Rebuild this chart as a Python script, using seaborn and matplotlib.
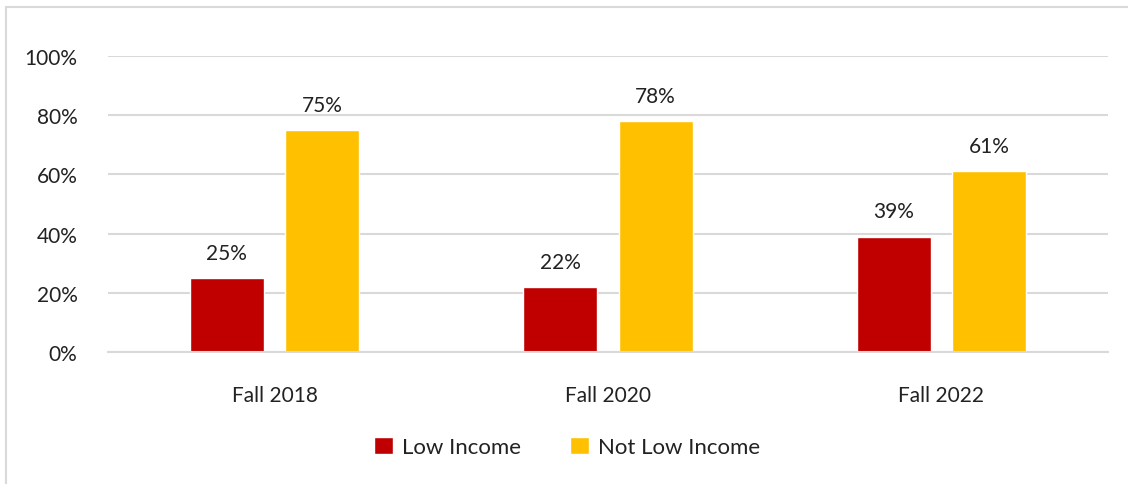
import seaborn as sns
from matplotlib import pyplot as plt
from matplotlib.patches import Rectangle
import pandas as pd

terms = ["Fall 2018", "Fall 2020", "Fall 2022"]
low_income = [25, 22, 39]
not_low_income = [75, 78, 61]
groups = ["Low Income", "Not Low Income"]
colors = ["#C00000", "#FFC000"]

df = pd.DataFrame({
    "term": terms * 2,
    "group": [groups[0]] * 3 + [groups[1]] * 3,
    "pct": low_income + not_low_income,
})

sns.set_style("white")
plt.rcParams['font.family'] = ['Lato', 'DejaVu Sans']
fs = 15

fig = plt.figure(figsize=(11.28, 4.85), dpi=100)
ax = fig.add_axes([108/1128, 132/485, 1000/1128, 296/485])

sns.barplot(data=df, x="term", y="pct", hue="group", palette=colors,
            width=0.573, gap=0.225, ax=ax, errorbar=None, saturation=1)

for c in ax.containers:
    ax.bar_label(c, labels=[f"{v:.0f}%" for v in c.datavalues],
                 padding=11, fontsize=fs, color="#222222")

ax.set_ylim(0, 100)
ax.set_xlim(-0.5, 2.5)
ax.set_yticks(range(0, 101, 20))
ax.set_yticklabels([f"{t}%" for t in range(0, 101, 20)])
ax.yaxis.grid(True, color="#D9D9D9", linewidth=1.5)
ax.set_axisbelow(True)
for s in ["top", "right", "left"]:
    ax.spines[s].set_visible(False)
ax.spines["bottom"].set_color("#D9D9D9")
ax.spines["bottom"].set_linewidth(1.5)
ax.tick_params(axis="both", length=0, labelsize=fs, colors="#222222")
ax.tick_params(axis="y", pad=22)
ax.tick_params(axis="x", pad=24)
ax.set_xlabel("")
ax.set_ylabel("")

leg = ax.legend(loc="center", bbox_to_anchor=(567/1128, 37/485),
                bbox_transform=fig.transFigure, ncol=2, frameon=False,
                fontsize=16, handlelength=0.85, handleheight=0.85,
                handletextpad=0.4, columnspacing=2.2)
for t in leg.get_texts():
    t.set_color("#222222")

fig.patches.append(Rectangle((6/1128, -0.1), 1.2, 1 - 8/485 + 0.1,
                             transform=fig.transFigure, fill=False,
                             edgecolor="#D9D9D9", linewidth=1.5))

fig.savefig("out.png", dpi=100)
